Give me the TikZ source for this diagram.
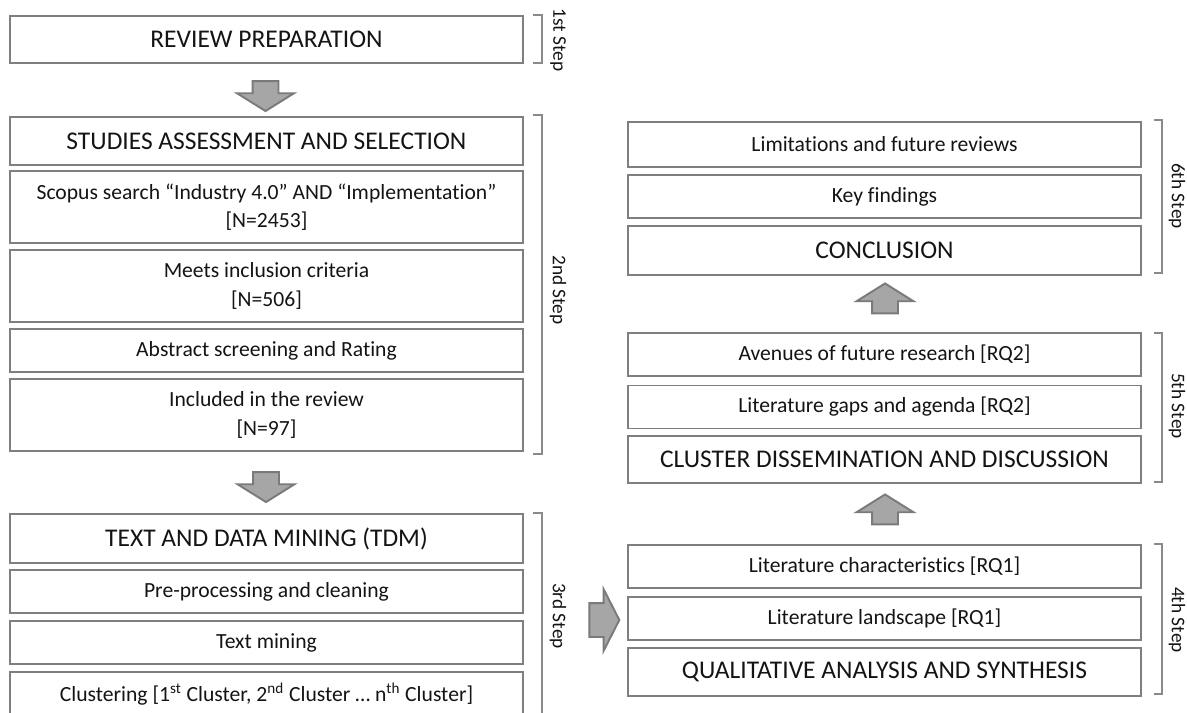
\documentclass[tikz,border=0pt]{standalone}
\usepackage{fontspec}
\setmainfont[Ligatures=NoCommon]{Carlito}
\usetikzlibrary{shapes.arrows}

\definecolor{boxline}{HTML}{7F7F7F}
\definecolor{brline}{HTML}{8A8A8A}
\definecolor{arrowfill}{HTML}{A6A6A6}
\definecolor{arrowline}{HTML}{7A7A7A}
\definecolor{textcol}{HTML}{141414}

\tikzset{
  box/.style={draw=boxline, line width=0.8pt, fill=white, minimum width=10.26cm,
    inner sep=0pt, align=center, text=textcol, font=\fontsize{12.3}{16}\selectfont},
  headbox/.style={box, font=\fontsize{14.5}{17}\selectfont},
  bracket/.style={draw=brline, line width=1pt},
  steplabel/.style={rotate=-90, text=textcol, font=\fontsize{11}{13}\selectfont},
  blockarrow/.style={single arrow, draw=arrowline, fill=arrowfill, line width=1.1pt,
    inner xsep=0pt, inner ysep=0.24cm, minimum height=0.6cm,
    single arrow head extend=0.31cm, single arrow tip angle=116}
}

\begin{document}
\begin{tikzpicture}[x=0.02cm, y=-0.02cm]
  \useasboundingbox (0,0) rectangle (1187,713);

  % 1st Step
  \node[headbox, minimum height=0.94cm] (prep) at (266.5,39.5) {REVIEW PREPARATION};
  \draw[bracket] (533,15) -- (542,15) -- (542,63) -- (533,63);
  \node[steplabel] (s1) at (558,40) {1st Step};

  \node[blockarrow, rotate=-90] (a1) at (265.5,92) {};

  % 2nd Step
  \node[headbox, minimum height=0.96cm] (assess) at (266.5,141) {STUDIES ASSESSMENT AND SELECTION};
  \node[box, minimum height=1.44cm] (scopus) at (266.5,207) {Scopus search “Industry 4.0” AND “Implementation”\\{[N=2453]}};
  \node[box, minimum height=1.44cm] (meets) at (266.5,286) {Meets inclusion criteria\\{[N=506]}};
  \node[box, minimum height=0.86cm] (abstract) at (266.5,350.5) {Abstract screening and Rating};
  \node[box, minimum height=1.44cm] (included) at (266.5,415) {Included in the review\\{[N=97]}};
  \draw[bracket] (533,115) -- (542,115) -- (542,454) -- (533,454);
  \node[steplabel] (s2) at (558,290) {2nd Step};

  \node[blockarrow, rotate=-90] (a2) at (266,483) {};

  % 3rd Step
  \node[headbox, minimum height=0.98cm] (tdm) at (266.5,538.5) {TEXT AND DATA MINING (TDM)};
  \node[box, minimum height=0.86cm] (preproc) at (266.5,591.5) {Pre-processing and cleaning};
  \node[box, minimum height=0.86cm] (textmin) at (266.5,642.5) {Text mining};
  \node[box, minimum height=0.88cm] (cluster) at (266.5,694) {Clustering [1\textsuperscript{st} Cluster, 2\textsuperscript{nd} Cluster … n\textsuperscript{th} Cluster]};
  \draw[bracket] (533,513) -- (542,513) -- (542,720);
  \node[steplabel] (s3) at (558,616) {3rd Step};

  \node[blockarrow, inner ysep=0.32cm, single arrow head extend=0.28cm, single arrow tip angle=126] (a3) at (600,620) {};

  % 4th Step
  \node[box, minimum height=0.86cm] (litchar) at (884.5,566.5) {Literature characteristics [RQ1]};
  \node[box, minimum height=0.86cm] (landsc) at (884.5,618.5) {Literature landscape [RQ1]};
  \node[headbox, minimum height=0.96cm] (qual) at (884.5,672) {QUALITATIVE ANALYSIS AND SYNTHESIS};
  \draw[bracket] (1154,544) -- (1162,544) -- (1162,694) -- (1154,694);
  \node[steplabel] (s4) at (1177,620) {4th Step};

  \node[blockarrow, rotate=90] (a4) at (885,513.5) {};

  % 5th Step
  \node[box, minimum height=0.86cm] (avenues) at (884.5,354.5) {Avenues of future research [RQ2]};
  \node[box, minimum height=0.86cm] (gaps) at (884.5,407) {Literature gaps and agenda [RQ2]};
  \node[headbox, minimum height=0.94cm] (dissem) at (884.5,459.5) {CLUSTER DISSEMINATION AND DISCUSSION};
  \draw[bracket] (1154,333) -- (1162,333) -- (1162,482) -- (1154,482);
  \node[steplabel] (s5) at (1177,406) {5th Step};

  \node[blockarrow, rotate=90] (a5) at (885,302.5) {};

  % 6th Step
  \node[box, minimum height=0.9cm] (limits) at (884.5,144.5) {Limitations and future reviews};
  \node[box, minimum height=0.86cm] (keyfind) at (884.5,196.5) {Key findings};
  \node[headbox, minimum height=0.98cm] (concl) at (884.5,250.5) {CONCLUSION};
  \draw[bracket] (1154,120) -- (1162,120) -- (1162,273) -- (1154,273);
  \node[steplabel] (s6) at (1177,196) {6th Step};
\end{tikzpicture}
\end{document}
